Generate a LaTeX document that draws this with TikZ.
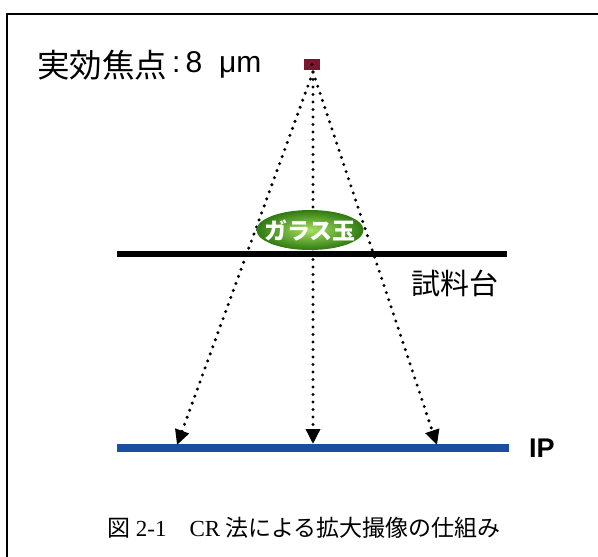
\documentclass[tikz,border=0pt]{standalone}
\usepackage{fontspec}
\setmainfont{Liberation Serif}
\newfontfamily\cjk{Noto Sans CJK JP}
\newfontfamily\lsans{Liberation Sans}
\usetikzlibrary{arrows.meta,shapes.geometric}
\definecolor{focusred}{HTML}{7B1530}
\definecolor{ipblue}{HTML}{1A4FA0}
\definecolor{glight}{HTML}{A6E060}
\definecolor{gdark}{HTML}{2F7A12}
\tikzset{
  ray/.style={line width=3.4pt, dash pattern=on 0pt off 7.5pt, line cap=round,
    -{Triangle[length=15pt,width=14pt,line cap=butt]}},
  bar/.style={line width=6pt},
  lbl/.style={inner sep=0pt, anchor=west},
}
\begin{document}
\begin{tikzpicture}[x=1pt,y=-1pt]
\useasboundingbox (0,0) rectangle (598,557);
\fill[white] (0,0) rectangle (598,557);
% frame
\draw[line width=2pt] (7,560) -- (7,14) -- (600,14);
% title
\node[lbl] (title) at (37,65) {\cjk\fontsize{32.5}{32.5}\selectfont 実効焦点};
\node[lbl] (titleval) at (172,65) {\lsans\fontsize{30}{30}\selectfont :\hspace{5pt}8\hspace{17pt}μm};
% focus
\node[draw=none, fill=focusred, minimum width=16pt, minimum height=11pt, inner sep=0pt] (focus) at (312,64.5) {};
\fill[black] (focus.center) circle (1.6pt);
\coordinate (src) at (313,72);
% stage
\coordinate (s1) at (117,254);
\coordinate (s2) at (507,254);
\draw[bar, black] (s1) -- (s2);
% IP
\coordinate (p1) at (117,448);
\coordinate (p2) at (509,448);
\draw[line width=8pt, ipblue] (p1) -- (p2);
% arrow ends
\coordinate (a1) at (177,445);
\coordinate (a2) at (313,444);
\coordinate (a3) at (437,445);
\draw[ray] (src) -- (a1);
\draw[ray] (src) -- (a2);
\draw[ray] (src) -- (a3);
% glass ball
\node[ellipse, minimum width=107pt, minimum height=40pt, inner sep=0pt,
  inner color=glight, outer color=gdark] (ball) at (310,230) {};
\node[text=white, inner sep=0pt] (balltxt) at (ball.center) {\cjk\bfseries\fontsize{23}{23}\selectfont ガラス玉};
% labels
\node[lbl] (stagelbl) at (411,283) {\cjk\fontsize{29}{29}\selectfont 試料台};
\node[lbl] (iplbl) at (529,448) {\lsans\bfseries\fontsize{27}{27}\selectfont IP};
\node[lbl] (caption) at (107,528) {\fontsize{23}{23}\selectfont\cjk 図\rmfamily\ 2-1\cjk\hspace{1em}\rmfamily CR\cjk\ 法による拡大撮像の仕組み};
\end{tikzpicture}
\end{document}
